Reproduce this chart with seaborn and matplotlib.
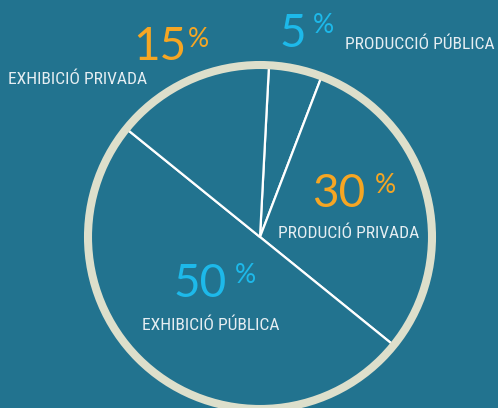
import matplotlib.pyplot as plt
import seaborn as sns
from matplotlib.patches import Circle

# shares of the budget
shares = [5, 30, 50, 15]
names = ["PRODUCCIÓ PÚBLICA", "PRODUCIÓ PRIVADA", "EXHIBICIÓ PÚBLICA", "EXHIBICIÓ PRIVADA"]
pct_colors = ["#1db9ea", "#f6a623", "#1db9ea", "#f6a623"]

bg = "#22738f"
ring = "#dddfcb"
label_col = "#e6eef2"

sns.set_style("white")
plt.rcParams["font.family"] = ["Roboto Condensed", "Roboto", "DejaVu Sans"]

fig = plt.figure(figsize=(4.98, 4.08), dpi=100, facecolor=bg)
ax = fig.add_axes([0, 0, 1, 1])
ax.set_facecolor(bg)

W, H = 498, 408
cx, cy, r = 260, H - 237, 172

ax.pie(shares, startangle=87, counterclock=False, center=(cx, cy), radius=r,
       colors=[bg] * len(shares),
       wedgeprops=dict(edgecolor="white", linewidth=1.6, joinstyle="round"))
ax.add_patch(Circle((cx, cy), r, fill=False, ec=ring, lw=5.8, zorder=5))

ax.set_xlim(0, W)
ax.set_ylim(0, H)
ax.set_aspect("equal")
ax.axis("off")

# positions in pixels from the top-left corner:
# number centre, percent sign left edge, label left edge (all on baselines)
spots = [
    ((293, 47), (313, 33), (345, 49)),
    ((339, 207), (375, 193), (278, 238)),
    ((200, 297), (235, 283), (142, 330)),
    ((160, 60), (188, 47), (8, 84)),
]

for share, name, col, (num, pc, lab) in zip(shares, names, pct_colors, spots):
    ax.text(num[0], H - num[1], str(share), color=col, fontsize=33,
            family=["Lato", "DejaVu Sans"], ha="center", va="baseline")
    ax.text(pc[0], H - pc[1], "%", color=col, fontsize=19,
            family=["Lato", "DejaVu Sans"], ha="left", va="baseline")
    ax.text(lab[0], H - lab[1], name, color=label_col, fontsize=12.6,
            ha="left", va="baseline")

fig.savefig("out.png", dpi=100, facecolor=bg)
